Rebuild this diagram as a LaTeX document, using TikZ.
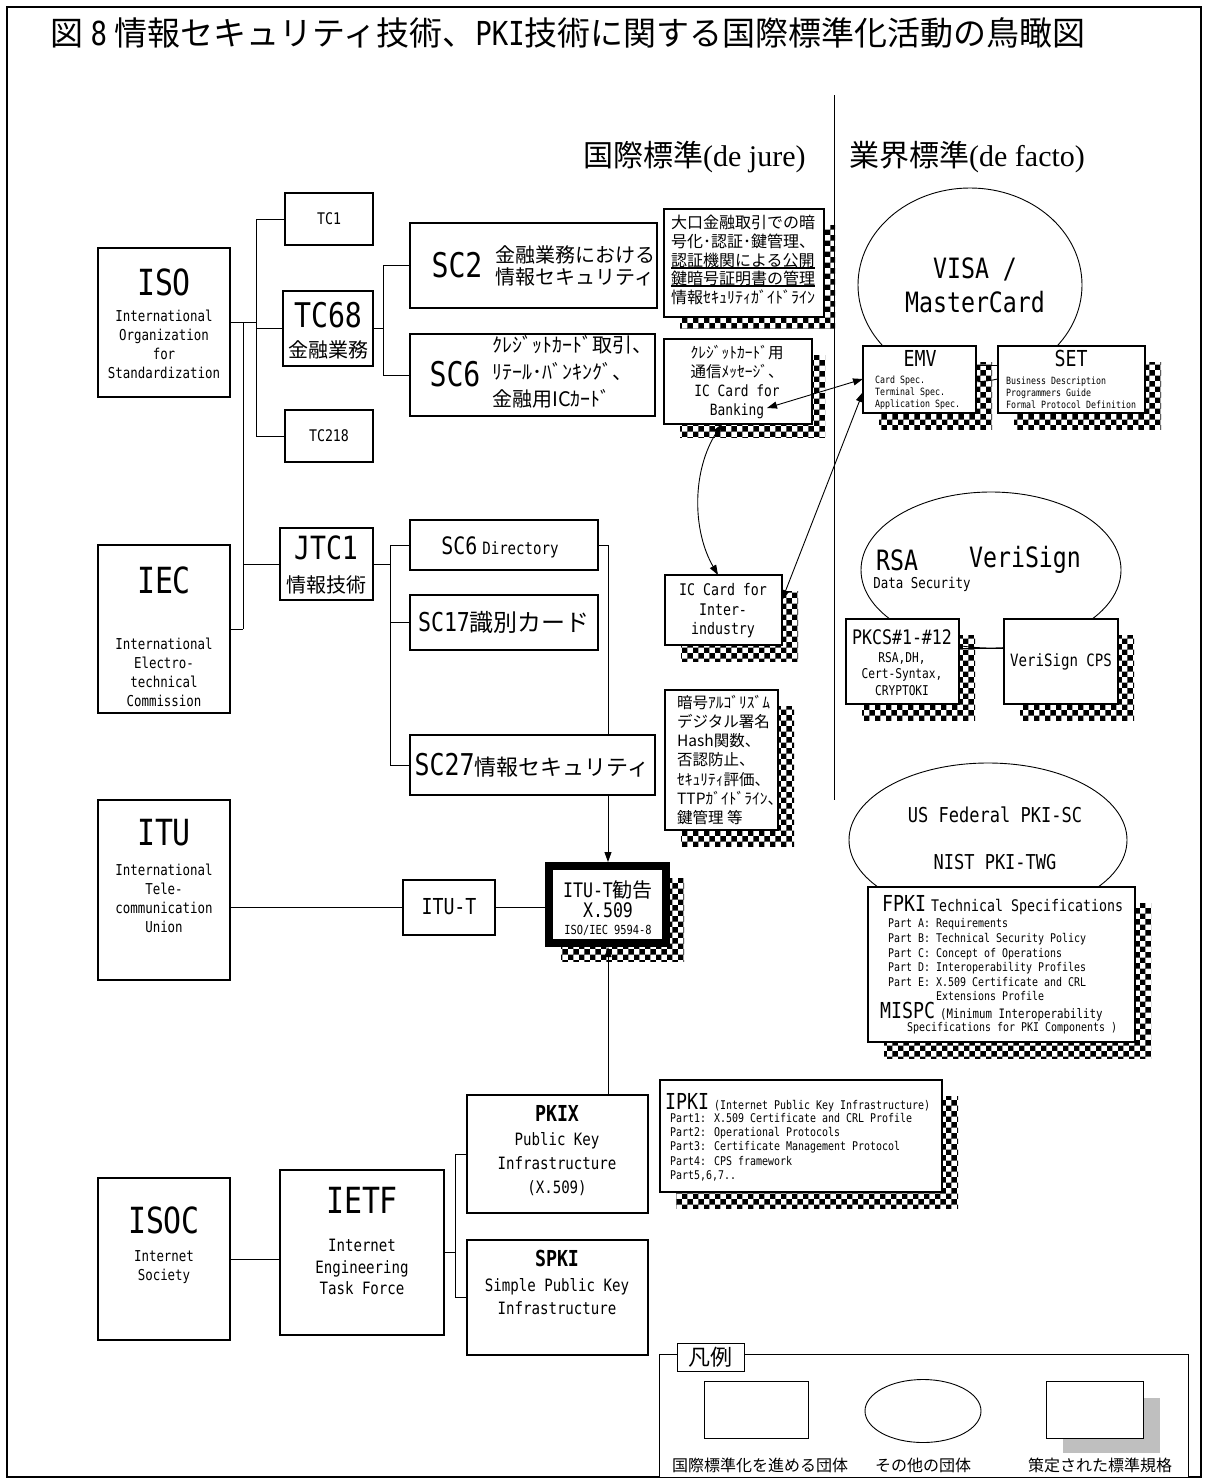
\documentclass[tikz,border=0pt]{standalone}
\usepackage{fontspec}
\setmainfont{Noto Sans CJK JP}
\newfontfamily\mf[FakeStretch=0.83]{DejaVu Sans Mono}
\newfontfamily\serifA{Liberation Serif}
\usetikzlibrary{patterns,arrows.meta,calc,shapes.geometric}
\pgfdeclarelayer{lines}
\pgfdeclarelayer{ell}
\pgfdeclarelayer{shad}
\pgfdeclarelayer{top}
\pgfsetlayers{lines,ell,shad,main,top}
\newcommand\fz[2]{\fontsize{#1}{#2}\selectfont}
\newcommand\ulx[1]{\setbox0\hbox{#1}\rlap{\rule[-2.6pt]{\wd0}{2pt}}\box0}
\newcommand\bx[6][]{\node[box,#1,minimum width={(#5-#3)*1pt},minimum height={(#6-#4)*1pt}] (#2) at ({(#3+#5)/2},{(#4+#6)/2}) {};}
\newcommand\shd[2][16]{\begin{pgfonlayer}{shad}\fill[pattern=checkerboard] ($(#2.north west)+(16,16)$) rectangle ($(#2.south east)+(#1,#1)$);\end{pgfonlayer}}
\tikzset{
  box/.style={draw,line width=1.4pt,fill=white,inner sep=0pt,outer sep=0pt},
  t/.style={inner sep=0pt,align=center},
  tl/.style={inner sep=0pt,align=left,anchor=west},
  conn/.style={line width=0.9pt},
  ell/.style={draw,ellipse,line width=0.9pt,inner sep=0pt},
  tip/.style={{Triangle[length=10pt,width=7pt]}-{Triangle[length=10pt,width=7pt]}},
}
\begin{document}
\begin{tikzpicture}[x=1pt,y=-1pt]
\useasboundingbox (0,0) rectangle (1208,1483);
\draw[line width=1.4pt] (7,7) rectangle (1201,1477);
% title and headers
\node[tl,font=\fz{33}{36}] (title) at (50,33) {図 {\mf 8} 情報セキュリティ技術、{\mf PKI}技術に関する国際標準化活動の鳥瞰図};
\node[tl,font=\fz{30}{30}] (hj) at (583,157) {国際標準{\serifA (de jure)}};
\node[tl,font=\fz{30}{30}] (hf) at (849,157) {業界標準{\serifA (de facto)}};
\coordinate (dv1) at (834,95);
\coordinate (dv2) at (834,800);
\draw[conn] (dv1) -- (dv2);
% ellipses
\begin{pgfonlayer}{ell}
\node[ell,minimum width=224pt,minimum height=194pt] (visa) at (970,285) {};
\node[ell,minimum width=260pt,minimum height=156pt] (rsa) at (991,570) {};
\node[ell,minimum width=278pt,minimum height=154pt] (usf) at (988,840) {};
\end{pgfonlayer}
% boxes
\bx{tc1}{285}{193}{373}{245}
\bx{iso}{98}{248}{230}{397}
\bx{tc68}{283}{291}{373}{366}
\bx{tc218}{285}{410}{373}{462}
\bx{sc2}{410}{223}{657}{308}
\bx{sc6}{410}{334}{655}{416}
\bx{sc2d}{664}{209}{824}{317}\shd[11]{sc2d}
\bx{sc6d}{664}{339}{812}{424}\shd[13]{sc6d}
\bx{emv}{863}{346}{976}{413}\shd{emv}
\bx{set}{998}{346}{1145}{413}\shd{set}
\bx{jtc1}{280}{528}{373}{600}
\bx{iec}{98}{545}{230}{713}
\bx{sc6dir}{410}{520}{598}{570}
\bx{sc17}{410}{595}{598}{650}
\bx{iccard}{665}{575}{782}{645}\shd{iccard}
\bx{pkcs}{846}{619}{959}{704}\shd{pkcs}
\bx{vcps}{1004}{619}{1118}{704}\shd{vcps}
\bx{sc27}{410}{735}{655}{795}
\bx{sc27d}{665}{690}{778}{830}\shd{sc27d}
\bx{fpki}{868}{887}{1135}{1042}\shd{fpki}
\bx{itu}{98}{800}{230}{980}
\bx{itut}{403}{880}{495}{935}
\bx[line width=8pt,outer sep=4pt]{x509}{549}{866}{666}{943}\shd[14]{x509}
\bx{pkix}{467}{1095}{648}{1213}
\bx{ipki}{660}{1080}{942}{1192}\shd{ipki}
\bx{isoc}{98}{1178}{230}{1340}
\bx{ietf}{280}{1170}{444}{1335}
\bx{spki}{467}{1240}{648}{1355}
% legend
\bx[line width=1pt]{leg}{659}{1354}{1188}{1477}
\bx[line width=1pt]{legl}{677}{1343}{744}{1371}
\bx[line width=1pt]{lr}{704}{1381}{808}{1438}
\node[ell,minimum width=116pt,minimum height=63pt] (le) at (923,1411) {};
\fill[black!25] (1063,1398) rectangle (1160,1453);
\bx[line width=1pt]{ls}{1046}{1381}{1143}{1438}
\node[t,font=\fz{22}{22}] (legT) at (710,1357) {凡例};
\node[t,font=\fz{16}{16}] (legA) at (760,1465) {国際標準化を進める団体};
\node[t,font=\fz{16}{16}] (legB) at (923,1465) {その他の団体};
\node[t,font=\fz{16}{16}] (legC) at (1100,1465) {策定された標準規格};
% connectors
\begin{pgfonlayer}{lines}
\coordinate (vA1) at (256,219);
\coordinate (vA2) at (256,436);
\draw[conn] (iso.east) -- (iso.east -| vA1);
\draw[conn] (vA1) -- (vA2);
\draw[conn] (tc1.west) -- (tc1.west -| vA1);
\draw[conn] (tc68.west) -- (tc68.west -| vA1);
\draw[conn] (tc218.west) -- (tc218.west -| vA1);
\coordinate (vB1) at (243,322.5);
\coordinate (vB2) at (243,629);
\draw[conn] (vB1) -- (vB2);
\draw[conn] (jtc1.west) -- (jtc1.west -| vB1);
\draw[conn] (iec.east) -- (iec.east -| vB1);
\coordinate (vC1) at (383,265.5);
\coordinate (vC2) at (383,375);
\draw[conn] (tc68.east) -- (tc68.east -| vC1);
\draw[conn] (vC1) -- (vC2);
\draw[conn] (sc2.west) -- (sc2.west -| vC1);
\draw[conn] (sc6.west) -- (sc6.west -| vC1);
\coordinate (vD1) at (390,545);
\coordinate (vD2) at (390,765);
\draw[conn] (jtc1.east) -- (jtc1.east -| vD1);
\draw[conn] (vD1) -- (vD2);
\draw[conn] (sc6dir.west) -- (sc6dir.west -| vD1);
\draw[conn] (sc17.west) -- (sc17.west -| vD1);
\draw[conn] (sc27.west) -- (sc27.west -| vD1);
\coordinate (kD) at (608,545);
\draw[conn,-{Triangle[length=10pt,width=7pt]}] (sc6dir.east) -- (kD) -- (kD |- x509.north);
\draw[conn] (itut.west) -- (itut.west -| itu.east);
\draw[conn] (itut.east) -- (itut.east -| x509.west);
\draw[conn,-{Triangle[length=10pt,width=7pt]}] (pkix.north -| kD) -- (x509.south -| kD);
\draw[conn] (isoc.east) -- (isoc.east -| ietf.west);
\coordinate (vE1) at (455,1154);
\coordinate (vE2) at (455,1297.5);
\draw[conn] (ietf.east) -- (ietf.east -| vE1);
\draw[conn] (vE1) -- (vE2);
\draw[conn] (pkix.west) -- (pkix.west -| vE1);
\draw[conn] (spki.west) -- (spki.west -| vE1);
\coordinate (es) at (987,365);
\draw[conn] (es -| emv.east) -- (es -| set.west);
\coordinate (pv) at (980,648);
\draw[conn] (pv -| pkcs.east) -- (pv -| vcps.west);
\end{pgfonlayer}
\begin{pgfonlayer}{top}
\coordinate (a1s) at (767,408);
\coordinate (a1e) at (863,379);
\coordinate (a2s) at (722,424);
\coordinate (a2e) at (718,575);
\coordinate (a3s) at (782,600);
\coordinate (a3e) at (863,392);
\draw[conn,tip] (a1s) -- (a1e);
\draw[conn,tip] (a2s) .. controls (692,470) and (692,530) .. (a2e);
\draw[conn,tip] (a3s) -- (a3e);
\end{pgfonlayer}
% texts
\node[t,font=\mf\fz{16}{16}] (tc1T) at (329,219) {TC1};
\node[t,font=\mf\fz{16}{16}] (tc218T) at (329,436) {TC218};
\node[t,font=\mf\fz{34}{34}] (tc68T) at (328,315) {TC68};
\node[t,font=\fz{20}{20}] (tc68J) at (328,350) {金融業務};
\node[t,font=\mf\fz{36}{36}] (isoT) at (164,282) {ISO};
\node[t,font=\mf\fz{15}{19}] (isoS) at (164,344) {International\\Organization\\for\\Standardization};
\node[t,font=\mf\fz{34}{34}] (sc2T) at (457,265) {SC2};
\node[t,font=\fz{20}{22}] (sc2J) at (575,266) {金融業務における\\情報セキュリティ};
\node[t,font=\mf\fz{34}{34}] (sc6T) at (455,374) {SC6};
\node[tl,font=\fz{20}{27}] (sc6J) at (492,372) {ｸﾚｼﾞｯﾄｶｰﾄﾞ取引、\\ﾘﾃｰﾙ･ﾊﾞﾝｷﾝｸﾞ、\\金融用ICｶｰﾄﾞ};
\node[tl,font=\fz{16}{18.7}] (sc2dT) at (671,260) {大口金融取引での暗\\号化･認証･鍵管理、\\\ulx{認証機関による公開}\\\ulx{鍵暗号証明書の管理}\\情報ｾｷｭﾘﾃｨｶﾞｲﾄﾞﾗｲﾝ};
\node[t,font=\fz{15.5}{19}] (sc6dT) at (737,382) {ｸﾚｼﾞｯﾄｶｰﾄﾞ用\\通信ﾒｯｾｰｼﾞ、\\{\mf IC Card for}\\{\mf Banking}};
\node[t,font=\mf\fz{22}{22}] (emvT) at (920,358) {EMV};
\node[tl,font=\mf\fz{10}{12}] (emvS) at (875,393) {Card Spec.\\Terminal Spec.\\Application Spec.};
\node[t,font=\mf\fz{22}{22}] (setT) at (1071,358) {SET};
\node[tl,font=\mf\fz{10}{12}] (setS) at (1006,393) {Business Description\\Programmers Guide\\Formal Protocol Definition};
\node[t,font=\mf\fz{28}{34}] (visaT) at (975,285) {VISA /\\MasterCard};
\node[t,font=\mf\fz{32}{32}] (jtc1T) at (326,548) {JTC1};
\node[t,font=\fz{20}{20}] (jtc1J) at (326,585) {情報技術};
\node[t,font=\mf\fz{36}{36}] (iecT) at (164,580) {IEC};
\node[t,font=\mf\fz{15}{19}] (iecS) at (164,672) {International\\Electro-\\technical\\Commission};
\node[t,font=\mf] (sc6dirT) at (500,547) {{\fz{24}{24}SC6} {\fz{17}{17}Directory}};
\node[t] (sc17T) at (504,622) {{\mf\fz{26}{26}SC17}{\fz{24}{24}識別カード}};
\node[t,font=\mf\fz{16}{19.5}] (iccT) at (723,611) {IC Card for\\Inter-\\industry};
\node[t,font=\mf\fz{28}{28}] (rsaT) at (897,560) {RSA};
\node[t,font=\mf\fz{28}{28}] (vsT) at (1025,560) {VeriSign};
\node[t,font=\mf\fz{15}{15}] (dsT) at (922,584) {Data Security};
\node[t,font=\mf\fz{20}{20}] (pkcsT) at (902,637) {PKCS\#1-\#12};
\node[t,font=\mf\fz{13.5}{16.5}] (pkcsS) at (902,674) {RSA,DH,\\Cert-Syntax,\\CRYPTOKI};
\node[t,font=\mf\fz{17}{17}] (vcpsT) at (1061,662) {VeriSign CPS};
\node[t] (sc27T) at (532,765) {{\mf\fz{30}{30}SC27}{\fz{22}{22}情報セキュリティ}};
\node[tl,font=\fz{15.5}{19.3}] (sc27dT) at (677,760) {暗号ｱﾙｺﾞﾘｽﾞﾑ\\デジタル署名\\Hash関数、\\否認防止、\\ｾｷｭﾘﾃｨ評価、\\TTPｶﾞｲﾄﾞﾗｲﾝ、\\鍵管理 等};
\node[t,font=\mf\fz{20.5}{20}] (usfA) at (995,815) {US Federal PKI-SC};
\node[t,font=\mf\fz{20.5}{20}] (usfB) at (995,862) {NIST PKI-TWG};
\node[tl,font=\mf] (fpkiT) at (882,905) {{\fz{22}{22}FPKI} {\fz{16}{16}Technical Specifications}};
\node[tl,font=\mf\fz{12}{14.6}] (fpkiS) at (888,960) {Part A: Requirements\\Part B: Technical Security Policy\\Part C: Concept of Operations\\Part D: Interoperability Profiles\\Part E: X.509 Certificate and CRL\\\phantom{Part E: }Extensions Profile};
\node[tl,font=\mf] (mispcT) at (880,1012) {{\fz{22}{22}MISPC} {\fz{13}{13}(Minimum Interoperability}};
\node[tl,font=\mf\fz{12}{12}] (mispcS) at (907,1028) {Specifications for PKI Components )};
\node[t,font=\mf\fz{36}{36}] (ituT) at (164,833) {ITU};
\node[t,font=\mf\fz{15}{19}] (ituS) at (164,898) {International\\Tele-\\communication\\Union};
\node[t,font=\mf\fz{22}{22}] (itutT) at (449,907) {ITU-T};
\node[t,font=\fz{20}{20}] (x509A) at (608,890) {{\mf ITU-T}勧告};
\node[t,font=\mf\fz{20}{20}] (x509B) at (608,910) {X.509};
\node[t,font=\mf\fz{12.5}{12.5}] (x509C) at (608,930) {ISO/IEC 9594-8};
\node[t,font=\mf\bfseries\fz{22}{22}] (pkixT) at (557,1113) {PKIX};
\node[t,font=\mf\fz{17}{24}] (pkixS) at (557,1164) {Public Key\\Infrastructure\\(X.509)};
\node[tl,font=\mf] (ipkiT) at (665,1103) {{\fz{22}{22}IPKI} {\fz{12}{12}(Internet Public Key Infrastructure)}};
\node[tl,font=\mf\fz{12}{14.3}] (ipkiS) at (670,1147) {Part1: X.509 Certificate and CRL Profile\\Part2: Operational Protocols\\Part3: Certificate Management Protocol\\Part4: CPS framework\\Part5,6,7..};
\node[t,font=\mf\fz{36}{36}] (isocT) at (164,1220) {ISOC};
\node[t,font=\mf\fz{15}{19}] (isocS) at (164,1267) {Internet\\Society};
\node[t,font=\mf\fz{36}{36}] (ietfT) at (362,1200) {IETF};
\node[t,font=\mf\fz{17}{21.5}] (ietfS) at (362,1267) {Internet\\Engineering\\Task Force};
\node[t,font=\mf\bfseries\fz{22}{22}] (spkiT) at (557,1258) {SPKI};
\node[t,font=\mf\fz{17}{23}] (spkiS) at (557,1297) {Simple Public Key\\Infrastructure};
\end{tikzpicture}
\end{document}
